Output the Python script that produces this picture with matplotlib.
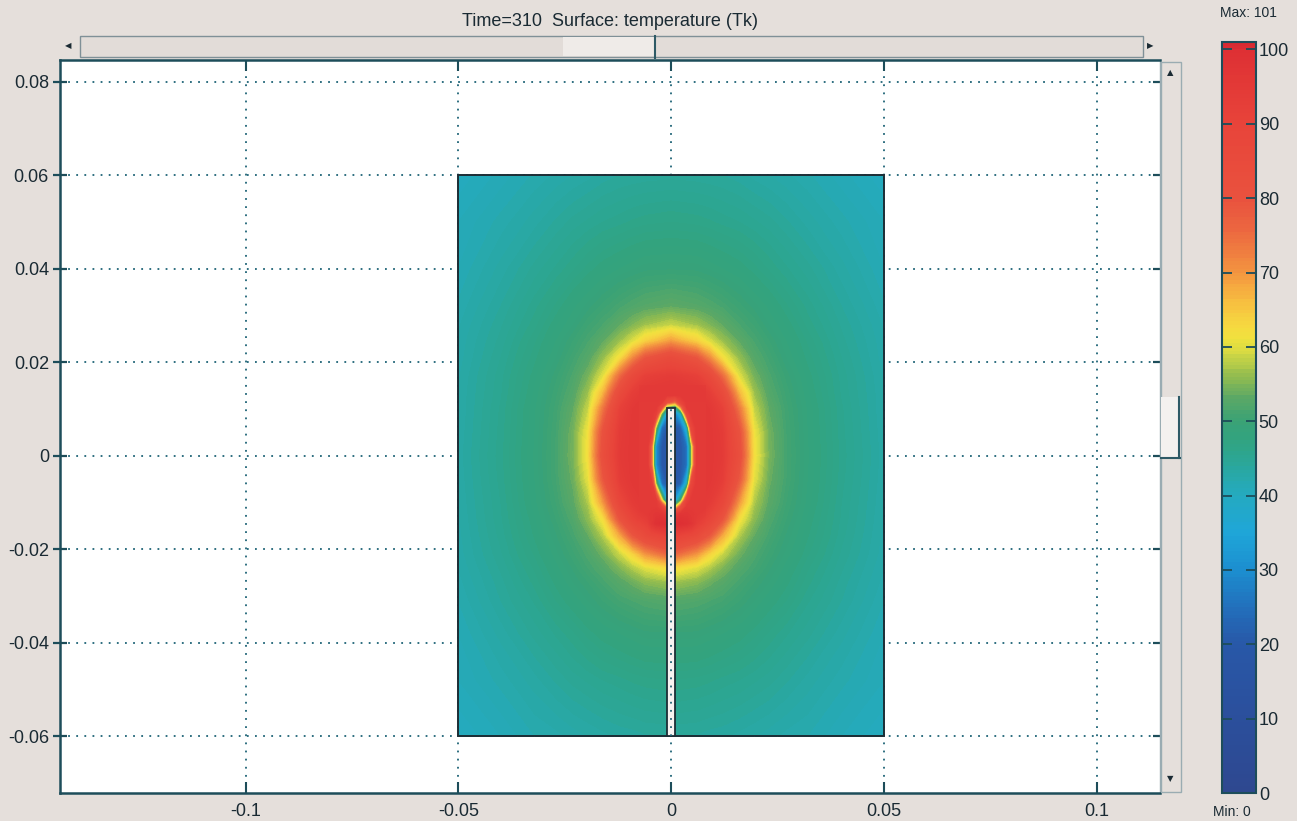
import numpy as np
import matplotlib
matplotlib.use("Agg")
import matplotlib.pyplot as plt
from matplotlib import font_manager
from matplotlib.colors import LinearSegmentedColormap
from matplotlib.patches import Rectangle
from matplotlib.lines import Line2D

# ---- data ----
title = "Time=310  Surface: temperature (Tk)"
t_min, t_max = 0, 101

domain_x = [-0.05, 0.05]
domain_y = [-0.06, 0.06]
probe_x = [-0.001, 0.001]
probe_y = [-0.06, 0.0103]

# coarse grid over the whole domain
x_out = [-0.050, -0.040, -0.032, -0.027, -0.023, -0.0195, -0.016, -0.012, -0.009, -0.006, 0.0,
         0.006, 0.009, 0.012, 0.016, 0.0195, 0.023, 0.027, 0.032, 0.040, 0.050]
y_out = [-0.060, -0.048, -0.038, -0.031, -0.027, -0.024, -0.021, -0.017, -0.0135, -0.010,
         -0.005, 0.0, 0.005, 0.010, 0.0135, 0.017, 0.021, 0.0245, 0.028, 0.032, 0.040, 0.050, 0.060]
t_out = [
    [40.0, 41.0, 42.0, 42.3, 42.7, 43.0, 43.3, 43.6, 43.7, 43.9, 44.0, 43.9, 43.7, 43.6, 43.3, 43.0, 42.7, 42.3, 42.0, 41.0, 40.0],
    [41.0, 42.2, 43.3, 44.1, 44.7, 45.1, 45.5, 45.8, 46.1, 46.3, 46.5, 46.3, 46.1, 45.8, 45.5, 45.1, 44.7, 44.1, 43.3, 42.2, 41.0],
    [41.5, 43.2, 44.7, 45.6, 46.4, 47.2, 47.9, 48.5, 48.9, 49.3, 49.4, 49.3, 48.9, 48.5, 47.9, 47.2, 46.4, 45.6, 44.7, 43.2, 41.5],
    [42.0, 44.0, 45.6, 47.0, 48.0, 49.0, 50.0, 51.0, 51.5, 52.0, 52.5, 52.0, 51.5, 51.0, 50.0, 49.0, 48.0, 47.0, 45.6, 44.0, 42.0],
    [42.3, 44.3, 46.2, 47.7, 49.0, 50.0, 51.2, 52.7, 54.0, 55.5, 56.8, 55.5, 54.0, 52.7, 51.2, 50.0, 49.0, 47.7, 46.2, 44.3, 42.3],
    [42.5, 44.6, 46.6, 48.2, 49.6, 51.0, 52.3, 55.0, 57.5, 60.0, 63.0, 60.0, 57.5, 55.0, 52.3, 51.0, 49.6, 48.2, 46.6, 44.6, 42.5],
    [42.7, 44.9, 47.1, 48.8, 50.3, 51.8, 54.1, 58.7, 63.5, 70.0, 77.0, 70.0, 63.5, 58.7, 54.1, 51.8, 50.3, 48.8, 47.1, 44.9, 42.7],
    [42.8, 45.2, 47.6, 49.4, 51.2, 53.5, 57.6, 68.3, 79.0, 86.0, 91.5, 86.0, 79.0, 68.3, 57.6, 53.5, 51.2, 49.4, 47.6, 45.2, 42.8],
    [42.9, 45.4, 47.9, 50.0, 52.0, 55.6, 62.0, 80.0, 89.3, 94.0, 95.5, 94.0, 89.3, 80.0, 62.0, 55.6, 52.0, 50.0, 47.9, 45.4, 42.9],
    [43.0, 45.5, 48.3, 50.5, 53.0, 57.3, 69.5, 88.0, 94.0, 96.0, 96.0, 96.0, 94.0, 88.0, 69.5, 57.3, 53.0, 50.5, 48.3, 45.5, 43.0],
    [43.1, 45.7, 48.5, 51.0, 53.9, 60.3, 78.5, 93.3, 96.0, 96.0, 96.0, 96.0, 96.0, 93.3, 78.5, 60.3, 53.9, 51.0, 48.5, 45.7, 43.1],
    [43.2, 45.8, 48.6, 51.1, 54.6, 62.0, 82.5, 94.5, 96.0, 96.0, 96.0, 96.0, 96.0, 94.5, 82.5, 62.0, 54.6, 51.1, 48.6, 45.8, 43.2],
    [43.1, 45.7, 48.5, 51.0, 54.3, 61.3, 80.5, 94.0, 96.0, 96.0, 96.0, 96.0, 96.0, 94.0, 80.5, 61.3, 54.3, 51.0, 48.5, 45.7, 43.1],
    [43.0, 45.6, 48.4, 50.7, 53.4, 58.5, 73.5, 91.5, 95.5, 96.0, 96.0, 96.0, 95.5, 91.5, 73.5, 58.5, 53.4, 50.7, 48.4, 45.6, 43.0],
    [43.0, 45.4, 48.1, 50.3, 52.4, 56.5, 66.5, 85.0, 93.0, 95.5, 96.0, 95.5, 93.0, 85.0, 66.5, 56.5, 52.4, 50.3, 48.1, 45.4, 43.0],
    [42.9, 45.3, 47.8, 49.8, 51.7, 54.5, 60.0, 75.5, 86.0, 92.0, 94.0, 92.0, 86.0, 75.5, 60.0, 54.5, 51.7, 49.8, 47.8, 45.3, 42.9],
    [42.7, 45.0, 47.3, 49.0, 50.8, 52.5, 56.0, 62.0, 71.0, 79.0, 85.0, 79.0, 71.0, 62.0, 56.0, 52.5, 50.8, 49.0, 47.3, 45.0, 42.7],
    [42.6, 44.7, 46.9, 48.5, 50.0, 51.4, 53.3, 56.6, 59.8, 64.0, 69.5, 64.0, 59.8, 56.6, 53.3, 51.4, 50.0, 48.5, 46.9, 44.7, 42.6],
    [42.4, 44.4, 46.3, 47.9, 49.0, 50.4, 51.5, 53.4, 55.0, 56.7, 58.5, 56.7, 55.0, 53.4, 51.5, 50.4, 49.0, 47.9, 46.3, 44.4, 42.4],
    [42.1, 44.0, 45.8, 47.1, 48.3, 49.2, 50.2, 51.3, 52.0, 52.6, 53.3, 52.6, 52.0, 51.3, 50.2, 49.2, 48.3, 47.1, 45.8, 44.0, 42.1],
    [41.5, 43.2, 44.7, 45.6, 46.4, 47.2, 47.9, 48.5, 48.9, 49.3, 49.4, 49.3, 48.9, 48.5, 47.9, 47.2, 46.4, 45.6, 44.7, 43.2, 41.5],
    [41.0, 42.2, 43.3, 44.1, 44.7, 45.1, 45.5, 45.8, 46.1, 46.3, 46.5, 46.3, 46.1, 45.8, 45.5, 45.1, 44.7, 44.1, 43.3, 42.2, 41.0],
    [40.1, 41.2, 42.1, 42.6, 43.0, 43.3, 43.7, 44.0, 44.1, 44.2, 44.3, 44.2, 44.1, 44.0, 43.7, 43.3, 43.0, 42.6, 42.1, 41.2, 40.1],
]

# finer grid around the probe tip (cold core)
x_tip = [-0.0075, -0.0055, -0.0045, -0.0035, -0.0022, -0.0010,
         0.0010, 0.0023, 0.0037, 0.0048, 0.0060, 0.0080]
y_tip = [-0.017, -0.0145, -0.0125, -0.011, -0.0095, -0.006, -0.002,
         0.002, 0.006, 0.009, 0.0105, 0.0115, 0.013, 0.015]
t_tip = [
    [82.0, 86.5, 87.9, 88.3, 89.6, 91.0, 91.0, 89.6, 88.3, 87.9, 86.0, 80.0],
    [89.0, 92.0, 96.0, 99.0, 100.0, 100.0, 100.0, 100.0, 99.0, 97.0, 93.0, 89.0],
    [93.0, 95.0, 96.0, 97.0, 97.0, 94.0, 93.0, 97.0, 97.0, 96.0, 95.0, 93.0],
    [95.0, 95.0, 95.0, 95.0, 90.5, 70.0, 60.0, 83.0, 95.0, 95.0, 95.0, 95.0],
    [95.0, 95.0, 95.0, 94.0, 62.0, 36.0, 33.0, 50.0, 90.0, 95.0, 95.0, 95.0],
    [95.0, 95.0, 93.0, 55.0, 25.0, 20.0, 20.0, 22.0, 40.0, 88.0, 95.0, 95.0],
    [95.0, 95.0, 72.0, 30.0, 20.0, 20.0, 20.0, 20.0, 25.0, 56.0, 95.0, 95.0],
    [95.0, 95.0, 72.0, 30.0, 20.0, 20.0, 20.0, 20.0, 25.0, 56.0, 95.0, 95.0],
    [95.0, 95.0, 93.0, 55.0, 25.0, 20.0, 20.0, 22.0, 40.0, 88.0, 95.0, 95.0],
    [95.0, 95.0, 95.0, 92.0, 54.0, 32.0, 29.0, 40.0, 86.0, 95.0, 95.0, 95.0],
    [95.0, 95.0, 95.0, 95.0, 85.0, 56.0, 49.0, 73.0, 95.0, 95.0, 95.0, 95.0],
    [95.0, 95.0, 95.0, 95.0, 94.0, 82.0, 74.0, 89.5, 95.0, 95.0, 95.0, 95.0],
    [95.5, 95.5, 95.5, 95.5, 95.5, 95.5, 95.0, 95.5, 95.5, 95.5, 95.5, 95.5],
    [94.0, 95.0, 95.2, 95.4, 95.4, 95.4, 95.4, 95.4, 95.4, 95.2, 95.0, 94.0],
]

x_ticks = [-0.1, -0.05, 0, 0.05, 0.1]
x_labels = ["-0.1", "-0.05", "0", "0.05", "0.1"]
y_ticks = [-0.06, -0.04, -0.02, 0, 0.02, 0.04, 0.06, 0.08]
y_labels = ["-0.06", "-0.04", "-0.02", "0", "0.02", "0.04", "0.06", "0.08"]
cbar_ticks = [0, 10, 20, 30, 40, 50, 60, 70, 80, 90, 100]

# colour scale used by the solver (value, colour)
cmap_values = [0, 10, 20, 25, 30, 35, 40, 42, 44, 46, 48, 50, 53, 56, 59, 61, 63,
               66, 69, 72, 76, 80, 90, 100, 101]
cmap_colors = ["#2e4890", "#2b4f9c", "#2858a8", "#2270bc", "#1c8fd0", "#1fa6d8", "#24aac0",
               "#27a9b0", "#2aa79c", "#2ea58a", "#33a37e", "#3aa276", "#5aa866", "#90bb50",
               "#d0d844", "#f0e23e", "#f6d840", "#f7bf40", "#f5a040", "#f08440", "#ec6640",
               "#e9523e", "#e8443a", "#de3034", "#d82a32"]

# ---- styling ----
W, H = 1297, 821
bg = "#e5dfdb"
dark = "#1d4d5a"
txt = "#1a2a33"
grid_c = "#1e6376"

names = {f.name for f in font_manager.fontManager.ttflist}
font = "Liberation Sans Narrow" if "Liberation Sans Narrow" in names else "Liberation Sans"
plt.rcParams["font.family"] = [font, "DejaVu Sans"]

cmap = LinearSegmentedColormap.from_list(
    "comsol", [((v - t_min) / (t_max - t_min), c) for v, c in zip(cmap_values, cmap_colors)])
levels = np.linspace(t_min, t_max, 203)


def fig_box(x0, y0, x1, y1):
    # pixel box (top-left origin) -> figure fraction rect
    return [x0 / W, 1 - y1 / H, (x1 - x0) / W, (y1 - y0) / H]


def fig_rect(x0, y0, x1, y1, **kw):
    b = fig_box(x0, y0, x1, y1)
    fig.add_artist(Rectangle((b[0], b[1]), b[2], b[3], transform=fig.transFigure, **kw))


def fig_line(xs, ys, **kw):
    fig.add_artist(Line2D([x / W for x in xs], [1 - y / H for y in ys],
                          transform=fig.transFigure, **kw))


fig = plt.figure(figsize=(W / 100, H / 100), dpi=100, facecolor=bg)
ax = fig.add_axes(fig_box(60, 60, 1160, 793))
ax.set_facecolor("white")

cs = ax.contourf(x_out, y_out, np.array(t_out), levels=levels, cmap=cmap,
                 vmin=t_min, vmax=t_max, antialiased=False, zorder=2)
ax.contourf(x_tip, y_tip, np.array(t_tip), levels=levels, cmap=cmap,
            vmin=t_min, vmax=t_max, antialiased=False, zorder=3)

ax.add_patch(Rectangle((domain_x[0], domain_y[0]), domain_x[1] - domain_x[0], domain_y[1] - domain_y[0],
                       fill=False, edgecolor="#1c2d35", lw=1.4, zorder=4))
probe = Rectangle((probe_x[0], probe_y[0]), probe_x[1] - probe_x[0], probe_y[1] - probe_y[0],
                  facecolor="#f7f3f1", edgecolor="#1c2d35", lw=1.3, zorder=5)
ax.add_patch(probe)
# grid dots show through the probe hole
vl = ax.axvline(0, color=grid_c, lw=1.3, ls=(0, (1, 3.5)), zorder=6)
vl.set_clip_path(probe)

ax.set_xlim(-0.1436, 0.1149)
ax.set_ylim(-0.0722, 0.0847)
ax.set_xticks(x_ticks)
ax.set_xticklabels(x_labels)
ax.set_yticks(y_ticks)
ax.set_yticklabels(y_labels)
ax.grid(True, color=grid_c, lw=1.3, ls=(0, (1, 3.5)))
ax.set_axisbelow(True)

for side in ["top", "bottom", "left"]:
    ax.spines[side].set_color(dark)
    ax.spines[side].set_linewidth(1.8)
ax.spines["right"].set_color("#9aacb2")
ax.spines["right"].set_linewidth(1.0)
ax.tick_params(axis="x", top=True, bottom=True, direction="in", length=8, width=1.5,
               color=dark, labelsize=13, labelcolor=txt, pad=7)
ax.tick_params(axis="y", left=True, right=True, direction="inout", length=10, width=1.6,
               color=dark, labelsize=13, labelcolor=txt, pad=3)

# colour bar
cax = fig.add_axes(fig_box(1222, 42, 1256, 793))
cb = fig.colorbar(cs, cax=cax, ticks=cbar_ticks)
cb.outline.set_edgecolor(dark)
cb.outline.set_linewidth(1.5)
cax.yaxis.set_ticks_position("both")
cax.tick_params(direction="in", length=7, width=1.3, color=dark, labelsize=13,
                labelcolor=txt, pad=2, labelright=True, labelleft=False)
cax.set_yticklabels([str(t) for t in cbar_ticks])

fig.text(1248 / W, 1 - 13 / H, "Max: 101", ha="center", va="center", fontsize=10, color=txt)
fig.text(1232 / W, 1 - 812 / H, "Min: 0", ha="center", va="center", fontsize=10, color=txt)
fig.text(610 / W, 1 - 21 / H, title, ha="center", va="center", fontsize=13, color=txt)

# horizontal scroll bar above the plot
fig_rect(80, 36, 1143, 57, facecolor="#e2dcd8", edgecolor="#7f9097", lw=1.0)
fig_rect(563, 37, 655, 56, facecolor="#efebe8", edgecolor="none")
fig_line([655, 655], [36, 58], color="#2e5a66", lw=1.5)
fig.text(68 / W, 1 - 46 / H, "\u25c0", ha="center", va="center", fontsize=6,
         color=txt, family="DejaVu Sans")
fig.text(1150 / W, 1 - 46 / H, "\u25b6", ha="center", va="center", fontsize=6,
         color=txt, family="DejaVu Sans")

# vertical scroll bar right of the plot
fig_rect(1161, 62, 1181, 792, facecolor=bg, edgecolor="#9aacb2", lw=1.0)
fig_rect(1161, 397, 1179, 457, facecolor="#f4f1ef", edgecolor="none")
fig_line([1179, 1179], [397, 458], color="#2e5a66", lw=1.5)
fig_line([1161, 1180], [458, 458], color="#2e5a66", lw=1.5)
fig.text(1170 / W, 1 - 73 / H, "\u25b2", ha="center", va="center", fontsize=6,
         color=txt, family="DejaVu Sans")
fig.text(1170 / W, 1 - 779 / H, "\u25bc", ha="center", va="center", fontsize=6,
         color=txt, family="DejaVu Sans")

fig.savefig("out.png", dpi=100, facecolor=bg)
